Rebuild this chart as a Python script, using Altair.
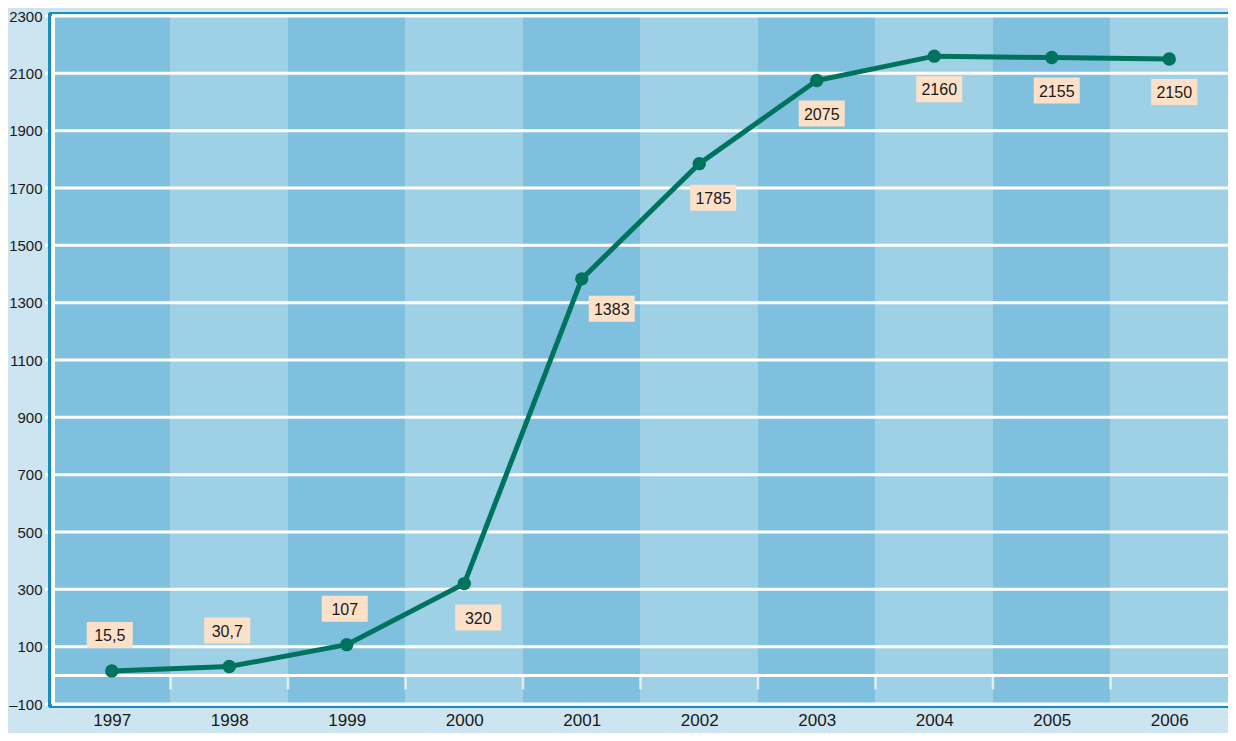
import altair as alt
import pandas as pd

# ---- data ----
years = [1997, 1998, 1999, 2000, 2001, 2002, 2003, 2004, 2005, 2006]
values = [15.5, 30.7, 107, 320, 1383, 1785, 2075, 2160, 2155, 2150]
labels = ["15,5", "30,7", "107", "320", "1383", "1785", "2075", "2160", "2155", "2150"]
placement = ["above", "above", "above", "below-right", "right", "below-right",
             "below", "below", "below", "below"]
y_ticks = [-100, 100, 300, 500, 700, 900, 1100, 1300, 1500, 1700, 1900, 2100, 2300]

# ---- styling ----
W, H = 1175, 688
FONT = "Liberation Sans Narrow, Liberation Sans, Arial, sans-serif"
BG = "#cde4f1"
BAND_DARK = "#80c0df"
BAND_LIGHT = "#9fd1e6"
EDGE_BLUE = "#1a8bc0"
LINE_GREEN = "#00735f"
BOX = "#fde0c8"
OFFSETS = {"above": (-2, -36), "below": (5, 33), "below-right": (14, 34), "right": (30, 30)}

df = pd.DataFrame({"year": years, "value": values, "label": labels, "place": placement})
bands = pd.DataFrame({
    "x0": [y - 0.5 for y in years],
    "x1": [y + 0.5 for y in years],
    "shade": ["dark" if i % 2 == 0 else "light" for i in range(len(years))],
})
grid = pd.DataFrame({"v": y_ticks})
bounds = pd.DataFrame({"b": [y + 0.5 for y in years[:-1]], "z": [0] * (len(years) - 1)})

xscale = alt.Scale(domain=[years[0] - 0.5, years[-1] + 0.5], nice=False, zero=False)
yscale = alt.Scale(domain=[y_ticks[0], y_ticks[-1]], nice=False, zero=False)

x_axis = alt.Axis(values=years, format="d", title=None, grid=False, ticks=False, domain=False,
                  labelFont=FONT, labelFontSize=17, labelColor="#1a1a1a", labelPadding=8)
y_axis = alt.Axis(values=y_ticks, format="d", title=None, grid=False, ticks=False, domain=False,
                  labelFont=FONT, labelFontSize=15, labelColor="#1a1a1a", labelPadding=11,
                  labelExpr="replace(datum.label, '−', '–')")

band_layer = alt.Chart(bands).mark_rect().encode(
    x=alt.X("x0:Q", scale=xscale, axis=x_axis),
    x2="x1:Q",
    y=alt.value(0),
    y2=alt.value(H),
    color=alt.Color("shade:N", scale=alt.Scale(domain=["dark", "light"], range=[BAND_DARK, BAND_LIGHT]),
                    legend=None),
)

grid_layer = alt.Chart(grid).mark_rule(color="white", strokeWidth=3).encode(
    y=alt.Y("v:Q", scale=yscale, axis=y_axis),
    x=alt.value(-8),
    x2=alt.value(W),
)

zero_layer = alt.Chart(bounds).mark_rule(color="white", strokeWidth=2.5).encode(
    y=alt.Y("z:Q", scale=yscale),
    x=alt.value(0),
    x2=alt.value(W),
)

tick_layer = alt.Chart(bounds).mark_tick(color="white", orient="vertical", size=14,
                                          thickness=2.5, yOffset=7).encode(
    x=alt.X("b:Q", scale=xscale),
    y=alt.Y("z:Q", scale=yscale),
)

frame_left = alt.Chart(grid).mark_rule(color=EDGE_BLUE, strokeWidth=2.5).encode(
    x=alt.value(-3), y=alt.value(-3), y2=alt.value(H + 3))
frame_left_white = alt.Chart(grid).mark_rule(color="white", strokeWidth=2.5).encode(
    x=alt.value(0), y=alt.value(0), y2=alt.value(H))
frame_top = alt.Chart(grid).mark_rule(color=EDGE_BLUE, strokeWidth=2).encode(
    y=alt.value(-3), x=alt.value(-4), x2=alt.value(W))
frame_bottom = alt.Chart(grid).mark_rule(color=EDGE_BLUE, strokeWidth=2).encode(
    y=alt.value(H + 3), x=alt.value(-4), x2=alt.value(W))

line_layer = alt.Chart(df).mark_line(color=LINE_GREEN, strokeWidth=5).encode(
    x=alt.X("year:Q", scale=xscale),
    y=alt.Y("value:Q", scale=yscale),
)
point_layer = alt.Chart(df).mark_circle(color=LINE_GREEN, opacity=1, size=180).encode(
    x=alt.X("year:Q", scale=xscale),
    y=alt.Y("value:Q", scale=yscale),
)

label_layers = []
for key, (dx, dy) in OFFSETS.items():
    sub = alt.Chart(df).transform_filter(alt.datum.place == key)
    label_layers.append(sub.mark_rect(color=BOX, width=46, height=26, xOffset=dx, yOffset=dy).encode(
        x=alt.X("year:Q", scale=xscale),
        y=alt.Y("value:Q", scale=yscale),
    ))
    label_layers.append(sub.mark_text(font=FONT, fontSize=16, color="#1a1a1a",
                                      dx=dx, dy=dy + 1, align="center", baseline="middle").encode(
        x=alt.X("year:Q", scale=xscale),
        y=alt.Y("value:Q", scale=yscale),
        text="label:N",
    ))

chart = alt.layer(
    band_layer, grid_layer, zero_layer, tick_layer,
    frame_left, frame_left_white, frame_top, frame_bottom,
    line_layer, point_layer, *label_layers,
).properties(
    width=W, height=H,
    background=BG,
    padding={"left": 45, "top": 8, "right": 0, "bottom": 29},
    autosize=alt.AutoSizeParams(type="none"),
).configure_view(stroke=None, clip=False)

chart.save("out.html", embed_options={"renderer": "svg", "actions": False})
